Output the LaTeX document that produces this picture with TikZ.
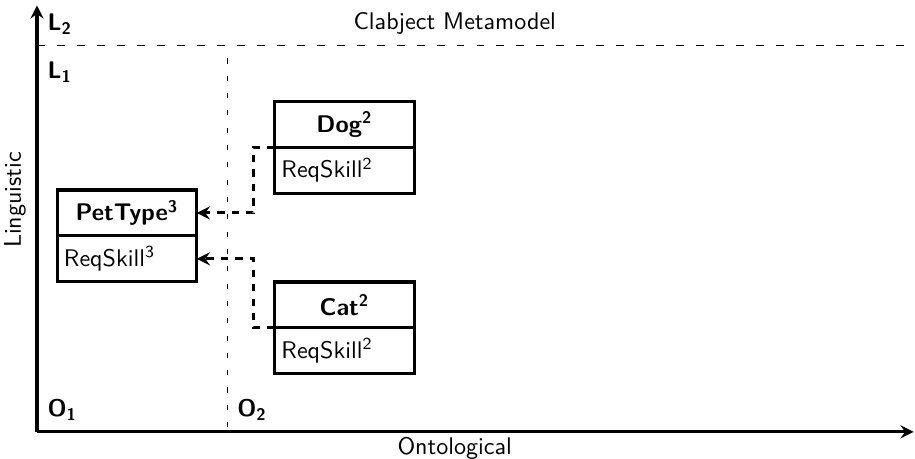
\documentclass[tikz,border=0pt]{standalone}
\usetikzlibrary{arrows,arrows.meta,positioning}
\renewcommand{\familydefault}{\sfdefault}

\begin{document}
\begin{tikzpicture}[>={Stealth[length=5.5pt,width=5.5pt,inset=2pt]}]
				\useasboundingbox (0,0) rectangle (13.36,6.70);
				\tikzstyle{clabject} = [draw=black,line width=1.3pt,outer sep=0pt,inner sep=0.1cm,text width=1.84cm,minimum height=0.67cm,align=center,font=\bfseries];
				\tikzstyle{attr} = [clabject,align=left,font=\normalfont];
				\tikzstyle{level} = [anchor=west,font=\bfseries];
				% axes
				\coordinate (o) at (0.54,0.394);
				\coordinate (ltop) at (0.54,6.62);
				\coordinate (oend) at (13.34,0.394);
				\draw[->,line width=1.3pt] (o) -- (ltop);
				\draw[->,line width=1.3pt] (o) -- (oend);
				\node[rotate=90] (ling) at (0.22,3.78) {Linguistic};
				\node (onto) at (6.64,0.15) {Ontological};
				% level borders
				\draw[dash pattern=on 3.3pt off 5pt] (0.54,6.029) -- (13.36,6.029);
				\draw[dash pattern=on 2.2pt off 5pt] (3.328,5.85) -- (3.328,0.394);
				\node (meta) at (6.64,6.35) {Clabject Metamodel};
				\node[level] (l2) at (0.57,6.35) {L\textsubscript{2}};
				\node[level] (l1) at (0.57,5.65) {L\textsubscript{1}};
				\node[level] (o1) at (0.57,0.715) {O\textsubscript{1}};
				\node[level] (o2) at (3.34,0.715) {O\textsubscript{2}};
				% clabjects
				\node[clabject] (pettype) at (1.854,3.591) {PetType\textsuperscript{3}};
				\node[attr,below=0pt of pettype] (pettypeattr) {ReqSkill\textsuperscript{3}};
				\node[clabject] (dog) at (5.03,4.884) {Dog\textsuperscript{2}};
				\node[attr,below=0pt of dog] (dogattr) {ReqSkill\textsuperscript{2}};
				\node[clabject] (cat) at (5.03,2.248) {Cat\textsuperscript{2}};
				\node[attr,below=0pt of cat] (catattr) {ReqSkill\textsuperscript{2}};
				% instance of
				\draw[->,style=very thick,dashed] (dog.south west) -- ++(-0.31,0) |- (pettype.east);
				\draw[->,style=very thick,dashed] (cat.south west) -- ++(-0.31,0) |- (pettypeattr.east);
			\end{tikzpicture}
\end{document}
